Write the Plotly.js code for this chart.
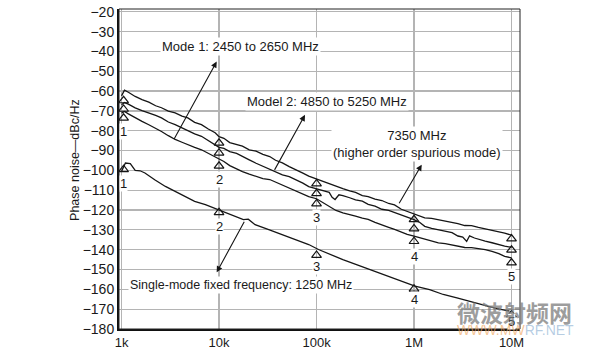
<!DOCTYPE html>
<html>
<head>
<meta charset="utf-8">
<script src="https://cdn.plot.ly/plotly-3.0.1.min.js"></script>
<style>html,body{margin:0;padding:0;background:#fff;}#chart{width:595px;height:351px;}</style>
</head>
<body>
<div id="chart"></div>
<script>
// ---------- data (frequency in Hz, phase noise in dBc/Hz) ----------
const freqUpper = [1000,1072,1175,1380,1622,1905,2239,2570,3020,3548,4169,4786,5623,6607,7762,9120,
  10000,11220,12880,15140,17380,20420,23990,28180,33110,38020,44670,52480,61660,72440,83180,
  100000,114800,134900,158500,186200,218800,251200,295100,338800,398100,467700,549500,631000,741300,851100,
  1e6,1.148e6,1.288e6,1.514e6,1.778e6,2.089e6,2.455e6,2.818e6,3.311e6,3.890e6,4.571e6,5.370e6,6.310e6,7.413e6,8.511e6,1e7];

const spurious7350 = [-62.4,-59.5,-60.6,-62.7,-64.3,-65.6,-67.4,-68.4,-70.1,-71.0,-72.6,-73.5,-75.8,-76.9,-79.1,-81.0,
  -83.0,-83.8,-86.0,-87.1,-87.8,-89.6,-90.3,-91.9,-93.0,-94.9,-96.2,-98.1,-99.6,-101.4,-102.9,
  -104.4,-105.4,-106.6,-108.1,-109.2,-110.3,-111.1,-112.7,-113.2,-114.5,-115.2,-116.7,-117.4,-119.6,-120.7,
  -122.1,-123.1,-124.0,-124.2,-124.9,-125.5,-126.1,-126.9,-127.8,-127.9,-128.8,-129.5,-130.0,-130.9,-131.6,-132.7];

const mode1 = [-71.1,-70.3,-71.5,-73.6,-75.3,-77.0,-78.7,-80.4,-82.5,-84.4,-85.8,-87.1,-88.4,-89.6,-91.4,-93.0,
  -94.4,-95.5,-97.6,-99.3,-100.6,-101.9,-103.0,-104.1,-104.6,-105.9,-107.4,-109.0,-110.5,-112.1,-113.2,
  -114.3,-116.0,-118.1,-120.2,-121.4,-122.5,-123.1,-124.1,-124.7,-126.2,-127.3,-128.7,-129.8,-131.2,-132.3,
  -133.2,-134.0,-134.9,-135.7,-136.6,-136.9,-137.5,-138.0,-138.9,-139.0,-139.5,-140.0,-140.9,-142.0,-143.4,-144.1];

const freqMode2 = [1000,1072,1175,1380,1622,1905,2239,2570,3020,3548,4169,4786,5623,6607,7762,9120,
  10000,11220,12880,15140,17380,20420,23990,28180,33110,38020,44670,52480,61660,72440,83180,
  100000,114800,134900,144500,154900,169800,186200,218800,251200,295100,338800,398100,467700,549500,631000,741300,851100,
  1e6,1.148e6,1.288e6,1.514e6,1.778e6,2.089e6,2.455e6,2.818e6,3.162e6,3.467e6,3.715e6,4.169e6,4.571e6,5.370e6,6.310e6,7.413e6,8.511e6,1e7];
const mode2 = [-66.9,-65.8,-66.6,-68.5,-69.9,-71.0,-72.3,-73.5,-75.6,-76.9,-78.5,-80.2,-81.6,-82.8,-85.1,-87.0,
  -88.4,-88.9,-90.5,-91.4,-93.1,-94.7,-96.4,-97.9,-99.8,-100.9,-102.3,-103.2,-104.8,-106.4,-108.2,
  -109.3,-110.5,-111.1,-113.6,-114.7,-112.3,-112.7,-113.8,-114.9,-115.5,-117.1,-118.0,-119.6,-120.2,-121.3,-122.2,-123.4,
  -124.8,-126.3,-128.2,-129.3,-129.9,-130.7,-131.4,-133.1,-133.6,-135.8,-133.0,-134.1,-134.8,-135.7,-136.5,-137.6,-138.2,-138.8];

const freqSingle = [1000,1096,1230,1380,1549,1738,2188,2818,3548,4467,5623,7244,9772,13490,17780,19950,23440,
  32360,43650,60260,83180,104700,138000,186200,257000,354800,489800,660700,912000,1.023e6,1.445e6,1.995e6,2.754e6,3.715e6,5.129e6,7.079e6,9.550e6];
const single1250 = [-100.5,-96.3,-96.6,-100.0,-100.2,-101.3,-104.7,-108.1,-110.6,-113.1,-115.6,-117.3,-119.8,-122.3,-124.8,-124.6,-127.4,
  -129.9,-132.4,-134.9,-137.4,-139.9,-142.5,-145.0,-147.5,-150.0,-152.5,-155.0,-157.6,-158.4,-160.1,-162.6,-164.3,-166.0,-167.6,-169.7,-171.0];

// markers (triangles) and their numbers
const markerFreq = [1050, 1e4, 1e5, 1e6, 1e7];
const markerNums = ['1','2','3','4','5'];
const mk7350 = [-64.8,-86.2,-106.7,-124.8,-134.5];
const mkMode2 = [-69.1,-91.2,-111.7,-129.4,-140.2];
const mkMode1 = [-73.6,-97.8,-116.8,-135.8,-146.6];
const mkSingle = [-99.5,-121.2,-142.8,-159.8,-172.8];
const numUpperY = [-80.4,-104.7,-124.0,-143.3,-153.4];
const numLowerY = [-106.4,-128.2,-148.3,-165.1,-176.0];

// axis ticks
const yTicks = [-20,-30,-40,-50,-60,-70,-80,-90,-100,-110,-120,-130,-140,-150,-160,-170,-180];
const xTickVals = [1e3,1e4,1e5,1e6,1e7];
const xTickText = ['1k','10k','100k','1M','10M'];

// ---------- drawing ----------
const lineStyle = {color:'#151515', width:1.3};
const traces = [
  {x:freqUpper, y:spurious7350, mode:'lines', line:lineStyle, hoverinfo:'skip'},
  {x:freqMode2, y:mode2, mode:'lines', line:lineStyle, hoverinfo:'skip'},
  {x:freqUpper, y:mode1, mode:'lines', line:lineStyle, hoverinfo:'skip'},
  {x:freqSingle, y:single1250, mode:'lines', line:lineStyle, hoverinfo:'skip'}
];
[mk7350, mkMode2, mkMode1, mkSingle].forEach(m => {
  traces.push({x:markerFreq, y:m, mode:'markers',
    marker:{symbol:'triangle-up-open', size:8.5, color:'#151515', line:{width:1.2, color:'#151515'}}, hoverinfo:'skip'});
});

const FONT = 'Liberation Sans, Arial, Helvetica, sans-serif';
const lg = Math.log10;
const annotations = [];
function label(text, fx, y, size, extra){
  annotations.push(Object.assign({x:lg(fx), y:y, xref:'x', yref:'y', text:text, showarrow:false,
    xanchor:'center', yanchor:'middle',
    font:{family:FONT, size:size||13, color:'#1a1a1a'}, bgcolor:'#ffffff', borderpad:1}, extra||{}));
}
function arrow(hx, hy, tx, ty){
  annotations.push({x:lg(hx), y:hy, ax:lg(tx), ay:ty, xref:'x', yref:'y', axref:'x', ayref:'y',
    text:'', showarrow:true, arrowhead:2, arrowsize:1.1, arrowwidth:1.1, arrowcolor:'#151515', standoff:0, startstandoff:0});
}
markerFreq.forEach((f,i) => {
  label(markerNums[i], f, numUpperY[i], 13, {borderpad:0});
  label(markerNums[i], f, numLowerY[i], 13, {borderpad:0});
});
label('Mode 1: 2450 to 2650 MHz', 16630, -37.7);
label('Model 2: 4850 to 5250 MHz', 128200, -65.4);
label('7350 MHz<br>(higher order spurious mode)', 1.074e6, -86.8);
label('Single-mode fixed frequency: 1250 MHz', 16830, -157.6, 12.5);
arrow(9460, -45.1, 3396, -84.9);
arrow(76200, -72.0, 36400, -100.5);
arrow(1.20e6, -97.1, 690000, -117.3);
arrow(9460, -151.4, 18490, -125.2);

// y title
annotations.push({xref:'paper', yref:'paper', x:-0.11, y:0.528, xanchor:'center', yanchor:'middle',
  text:'Phase noise\u2014dBc/Hz', textangle:-90,
  showarrow:false, font:{family:FONT, size:12.5, color:'#1a1a1a'}});
// watermark
annotations.push({xref:'paper', yref:'paper', x:0.9875, y:0.054, xanchor:'center', yanchor:'middle',
  text:'<b>微波射频网</b>', showarrow:false,
  font:{family:'Noto Sans CJK SC, sans-serif', size:23, color:'rgba(125,125,125,0.75)'}});
annotations.push({xref:'paper', yref:'paper', x:0.99, y:-0.003, xanchor:'center', yanchor:'middle',
  text:'<span style="color:rgba(240,165,90,0.8)">WWW.MW</span><span style="color:rgba(140,175,210,0.8)">RF.NET</span>',
  showarrow:false, font:{family:FONT, size:14, color:'rgba(140,175,210,0.8)'}});

const layout = {
  width:595, height:351,
  margin:{l:119, r:75, t:9, b:22, pad:0},
  paper_bgcolor:'#ffffff', plot_bgcolor:'#ffffff',
  showlegend:false,
  font:{family:FONT, size:13, color:'#1a1a1a'},
  xaxis:{type:'log', range:[2.974, 7.087], tickvals:xTickVals, ticktext:xTickText, ticks:'',
    showgrid:true, gridcolor:'#b4b4b4', gridwidth:1.2, zeroline:false,
    showline:true, linecolor:'#111', linewidth:2, tickfont:{family:FONT, size:13, color:'#1a1a1a'}},
  yaxis:{range:[-180, -18.6], tickvals:yTicks, ticks:'',
    showgrid:true, gridcolor:'#b4b4b4', gridwidth:1.2, zeroline:false,
    showline:true, linecolor:'#111', linewidth:2, tickfont:{family:FONT, size:14, color:'#1a1a1a'}},
  shapes:[{type:'rect', xref:'paper', yref:'paper', x0:0, x1:1, y0:0, y1:1, line:{color:'#222', width:1}}],
  annotations:annotations
};
Plotly.newPlot('chart', traces, layout, {staticPlot:true, displayModeBar:false});
</script>
</body>
</html>
